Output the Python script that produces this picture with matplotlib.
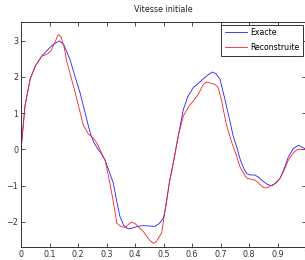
import matplotlib.pyplot as plt

# Values.
x_exact = [0.0, 0.014, 0.032, 0.05, 0.073, 0.09, 0.11, 0.134, 0.15, 0.172,
           0.19, 0.207, 0.236, 0.245, 0.255, 0.268, 0.282, 0.295, 0.31, 0.324,
           0.335, 0.347, 0.36, 0.376, 0.39, 0.41, 0.429, 0.45, 0.47, 0.485,
           0.5, 0.51, 0.52, 0.535, 0.552, 0.57, 0.585, 0.605, 0.63, 0.655,
           0.672, 0.685, 0.698, 0.715, 0.733, 0.745, 0.757, 0.77, 0.78, 0.792,
           0.805, 0.821, 0.835, 0.85, 0.865, 0.88, 0.895, 0.909, 0.925, 0.938,
           0.955, 0.973, 0.985, 0.996]
y_exact = [0.0, 1.2, 1.94, 2.3, 2.58, 2.72, 2.88, 3.0, 2.9, 2.48,
           2.0, 1.57, 0.66, 0.4, 0.2, 0.03, -0.12, -0.3, -0.62, -0.94,
           -1.4, -1.85, -2.1, -2.2, -2.18, -2.13, -2.11, -2.12, -2.13, -2.05,
           -1.9, -1.5, -0.94, -0.35, 0.38, 1.11, 1.45, 1.71, 1.88, 2.05,
           2.14, 2.08, 1.94, 1.4, 0.78, 0.35, 0.06, -0.3, -0.5, -0.67,
           -0.71, -0.71, -0.78, -0.89, -0.97, -1.01, -0.93, -0.8, -0.5, -0.21,
           0.02, 0.11, 0.07, 0.02]

x_recon = [0.0, 0.014, 0.032, 0.05, 0.073, 0.09, 0.105, 0.12, 0.131, 0.14,
           0.152, 0.16, 0.172, 0.19, 0.205, 0.219, 0.236, 0.25, 0.26, 0.271,
           0.282, 0.295, 0.312, 0.325, 0.336, 0.35, 0.365, 0.378, 0.388, 0.4,
           0.415, 0.429, 0.45, 0.464, 0.475, 0.494, 0.505, 0.52, 0.535, 0.552,
           0.57, 0.59, 0.605, 0.622, 0.64, 0.651, 0.665, 0.68, 0.692, 0.705,
           0.72, 0.739, 0.755, 0.768, 0.78, 0.792, 0.81, 0.821, 0.835, 0.85,
           0.86, 0.875, 0.89, 0.909, 0.925, 0.938, 0.955, 0.97, 0.985, 0.996]
y_recon = [-0.05, 1.2, 1.94, 2.3, 2.58, 2.62, 2.72, 2.98, 3.17, 3.12,
           2.8, 2.45, 2.1, 1.57, 1.1, 0.66, 0.43, 0.33, 0.25, 0.1,
           -0.1, -0.3, -0.94, -1.5, -2.04, -2.13, -2.16, -2.07, -2.01, -2.05,
           -2.17, -2.27, -2.5, -2.6, -2.55, -2.3, -1.7, -0.94, -0.35, 0.38,
           0.93, 1.2, 1.34, 1.52, 1.8, 1.86, 1.83, 1.8, 1.71, 1.3,
           0.7, 0.2, -0.15, -0.48, -0.65, -0.8, -0.83, -0.85, -0.95, -1.05,
           -1.07, -1.01, -0.95, -0.8, -0.55, -0.3, -0.1, 0.0, 0.0, 0.0]

x_ticks = [0, 0.1, 0.2, 0.3, 0.4, 0.5, 0.6, 0.7, 0.8, 0.9, 1]
x_tick_labels = ["0", "0.1", "0.2", "0.3", "0.4", "0.5", "0.6", "0.7", "0.8", "0.9", "1"]
y_ticks = [-2, -1, 0, 1, 2, 3]

fig = plt.figure(figsize=(3.05, 2.6), dpi=100)
ax = fig.add_axes([21 / 305, 13 / 260, 285 / 305, 225 / 260])

ax.plot(x_exact, y_exact, color="#2020ff", linewidth=0.6, label="Exacte")
ax.plot(x_recon, y_recon, color="#ff2020", linewidth=0.6, label="Reconstruite")

ax.set_xlim(0, 1)
ax.set_ylim(-2.7, 3.52)
ax.set_xticks(x_ticks)
ax.set_xticklabels(x_tick_labels)
ax.set_yticks(y_ticks)
ax.tick_params(direction="in", length=3, width=0.6, labelsize=5.8,
               colors="#333333", top=True, right=True, pad=2)
for spine in ax.spines.values():
    spine.set_linewidth(0.7)
    spine.set_color("#333333")

ax.set_title("Vitesse initiale", fontsize=5.8, pad=7, color="#222222")

leg = ax.legend(loc="upper right", fontsize=5.6, handlelength=2.9,
                borderpad=0.45, labelspacing=0.75, handletextpad=0.4,
                borderaxespad=0.35, fancybox=False, framealpha=1)
leg.get_frame().set_edgecolor("#333333")
leg.get_frame().set_linewidth(0.7)

fig.savefig("out.png", dpi=100)
